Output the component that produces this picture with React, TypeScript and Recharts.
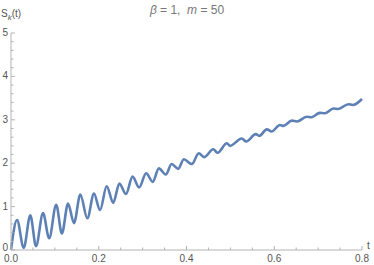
import { Line, LineChart, XAxis, YAxis } from 'recharts';

const tValues = [
  0, 0.0137, 0.029, 0.044, 0.057, 0.073, 0.087, 0.103, 0.116, 0.13, 0.1436, 0.158, 0.174, 0.189, 0.203,
  0.218, 0.233, 0.247, 0.262, 0.277, 0.292, 0.308, 0.323, 0.337, 0.353, 0.366, 0.381, 0.394, 0.412,
  0.428, 0.44, 0.461, 0.471, 0.492, 0.499, 0.526, 0.536, 0.558, 0.566, 0.583, 0.594, 0.613, 0.621,
  0.64, 0.652, 0.674, 0.685, 0.704, 0.715, 0.735, 0.746, 0.769, 0.779, 0.8
];
const sValues = [
  0, 0.69, 0.05, 0.8, 0.09, 0.85, 0.27, 1.04, 0.38, 1.07, 0.62, 1.28, 0.73, 1.3, 0.92,
  1.47, 1.09, 1.53, 1.29, 1.69, 1.44, 1.77, 1.57, 1.88, 1.74, 1.98, 1.87, 2.09, 1.98,
  2.23, 2.14, 2.32, 2.24, 2.46, 2.4, 2.57, 2.5, 2.67, 2.63, 2.78, 2.73, 2.88, 2.86,
  2.98, 2.96, 3.07, 3.06, 3.16, 3.15, 3.26, 3.25, 3.36, 3.34, 3.48
];
const xTicks = [0, 0.05, 0.1, 0.15, 0.2, 0.25, 0.3, 0.35, 0.4, 0.45, 0.5, 0.55, 0.6, 0.65, 0.7, 0.75, 0.8];
const xMajor = [0, 0.2, 0.4, 0.6, 0.8];
const yTicks = [
  0, 0.2, 0.4, 0.6, 0.8, 1, 1.2, 1.4, 1.6, 1.8, 2, 2.2, 2.4, 2.6, 2.8, 3, 3.2, 3.4, 3.6, 3.8,
  4, 4.2, 4.4, 4.6, 4.8, 5
];
const yMajor = [0, 1, 2, 3, 4, 5];

const data = tValues.map((t, i) => ({ t, s: sValues[i] }));

const AXIS = '#b3b3b3';
const LABEL = '#555';
const FONT = '"Liberation Sans", Arial, sans-serif';

const isMajor = (list: number[], v: number) => list.some((m) => Math.abs(m - v) < 1e-6);

function XTick(props: any) {
  const { x, y, payload } = props;
  const major = isMajor(xMajor, payload.value);
  return (
    <g>
      <line x1={x} x2={x} y1={y} y2={y - (major ? 4 : 2.5)} stroke={AXIS} strokeWidth={1} />
      {major && (
        <text x={x} y={y + 12} textAnchor="middle" fontSize={10} fill={LABEL} fontFamily={FONT}>
          {payload.value.toFixed(1)}
        </text>
      )}
    </g>
  );
}

function YTick(props: any) {
  const { x, y, payload } = props;
  const major = isMajor(yMajor, payload.value);
  // the origin label sits a little higher so it clears the "0.0" below it
  const dy = payload.value === 0 ? 1 : 3;
  return (
    <g>
      <line x1={x} x2={x + (major ? 4 : 2.5)} y1={y} y2={y} stroke={AXIS} strokeWidth={1} />
      {major && (
        <text x={x - 3} y={y + dy} textAnchor="end" fontSize={10} fill={LABEL} fontFamily={FONT}>
          {payload.value}
        </text>
      )}
    </g>
  );
}

export default function App() {
  return (
    <div style={{ position: 'relative', width: 374, height: 265, background: '#fff', fontFamily: FONT }}>
      <style>{`body{margin:0}`}</style>
      <LineChart width={374} height={265} data={data} margin={{ top: 33, right: 12, left: 0, bottom: 0 }}>
        <XAxis
          dataKey="t"
          type="number"
          domain={[0, 0.8]}
          ticks={xTicks}
          interval={0}
          height={15}
          tickSize={0}
          tickMargin={0}
          tickLine={false}
          axisLine={{ stroke: AXIS }}
          tick={<XTick />}
        />
        <YAxis
          type="number"
          domain={[0, 5]}
          ticks={yTicks}
          interval={0}
          width={11}
          tickSize={0}
          tickMargin={0}
          tickLine={false}
          axisLine={{ stroke: AXIS }}
          tick={<YTick />}
        />
        <Line
          type="monotone"
          dataKey="s"
          stroke="#5e81b5"
          strokeWidth={2.6}
          dot={false}
          isAnimationActive={false}
        />
      </LineChart>
      <div style={{ position: 'absolute', left: 0, top: 3, width: 374, textAlign: 'center', fontSize: 12, color: '#777' }}>
        <i>β</i> = 1,&nbsp; <i>m</i> = 50
      </div>
      <div style={{ position: 'absolute', left: 1, top: 8, fontSize: 10, color: LABEL }}>
        S<sub style={{ fontSize: 8, fontStyle: 'italic' }}>k</sub>(t)
      </div>
      <div style={{ position: 'absolute', left: 367, top: 240, fontSize: 10, color: LABEL }}>t</div>
    </div>
  );
}
